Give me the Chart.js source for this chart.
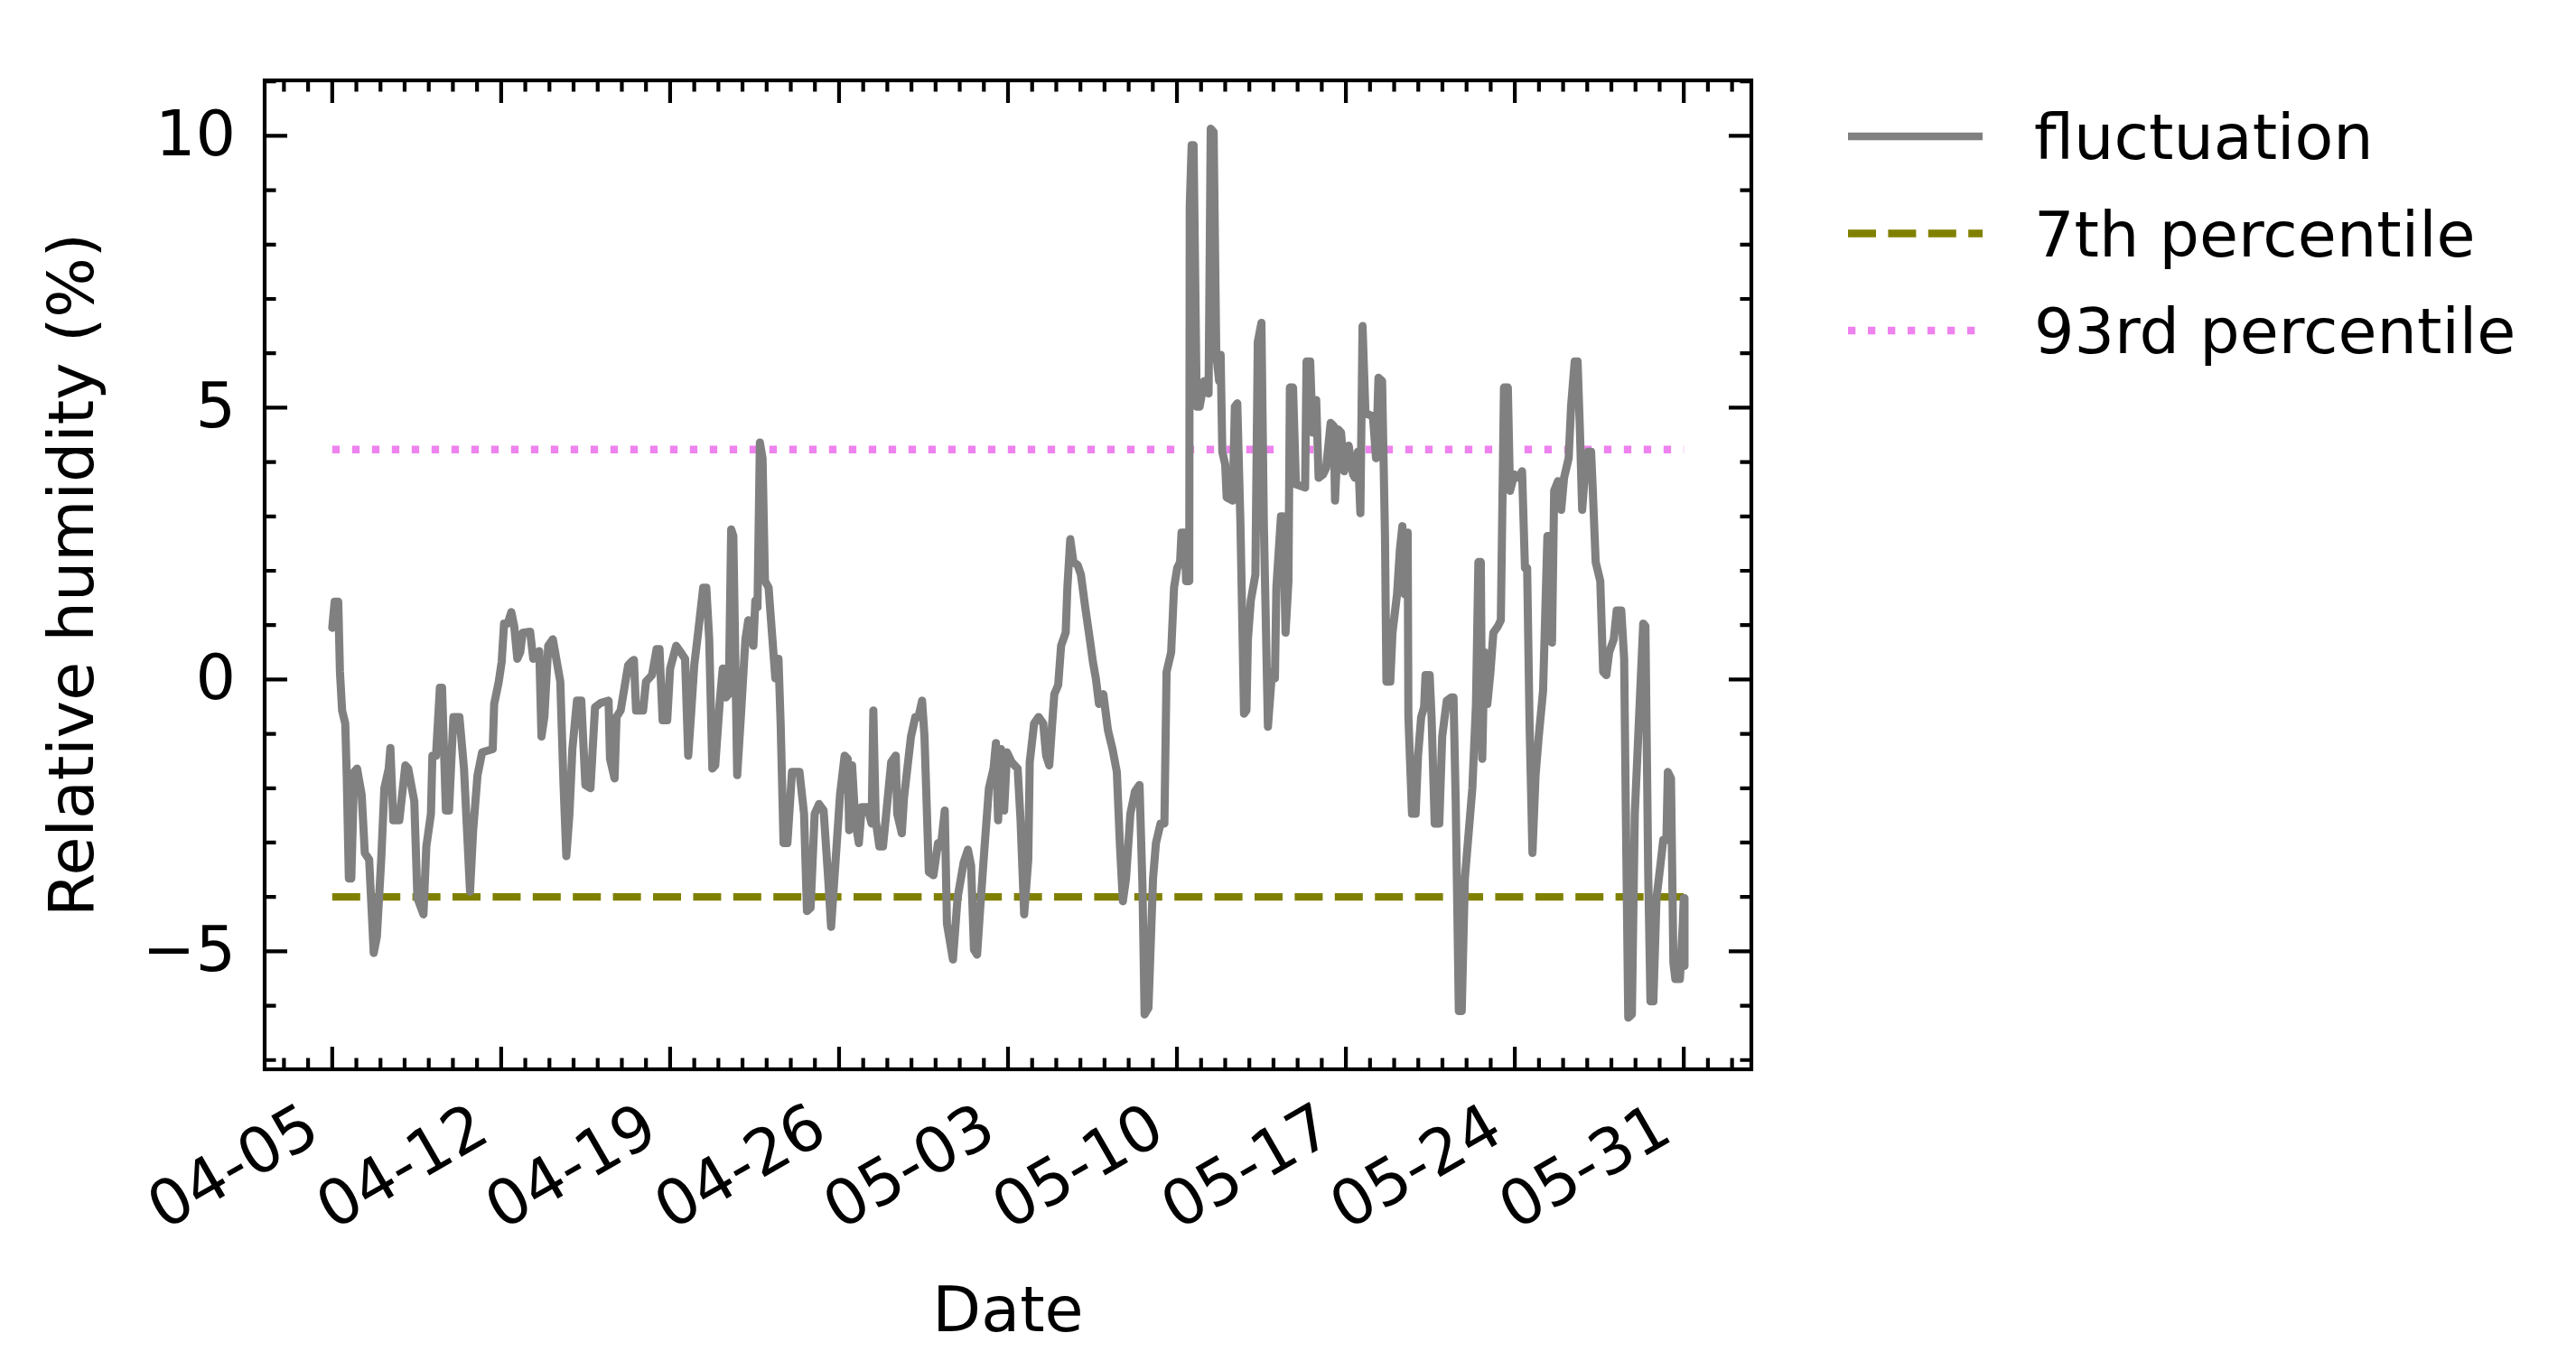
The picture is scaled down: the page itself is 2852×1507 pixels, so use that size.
<!DOCTYPE html>
<html>
<head>
<meta charset="utf-8">
<title>Relative humidity fluctuation</title>
<script src="https://cdn.jsdelivr.net/npm/chart.js@4.4.1/dist/chart.umd.min.js"></script>
<style>
  html, body { margin: 0; padding: 0; background: #fff; }
  canvas { display: block; }
</style>
</head>
<body>
<canvas id="humidityChart" width="2852" height="1507"></canvas>
<script>
// days since 04-05 00:00
const dayOffsets = [
  0.00, 0.10, 0.25, 0.32, 0.41, 0.54, 0.60, 0.69, 0.79, 0.91, 1.03, 1.22, 1.35, 1.53, 1.72, 1.85,
  2.03, 2.16, 2.34, 2.41, 2.53, 2.78, 3.03, 3.15, 3.40, 3.53, 3.78, 3.90, 4.09, 4.15, 4.30, 4.46,
  4.55, 4.71, 4.84, 5.02, 5.27, 5.46, 5.71, 5.84, 6.02, 6.21, 6.65, 6.71, 6.90, 7.02, 7.12, 7.27,
  7.42, 7.54, 7.67, 7.79, 7.89, 8.20, 8.33, 8.58, 8.67, 8.79, 8.95, 9.14, 9.26, 9.45, 9.58, 9.70,
  9.83, 9.95, 10.14, 10.32, 10.49, 10.70, 10.89, 11.13, 11.45, 11.51, 11.70, 11.78, 11.95, 12.26,
  12.38, 12.50, 12.59, 12.88, 13.00, 13.25, 13.44, 13.56, 13.69, 13.88, 14.00, 14.25, 14.44, 14.62,
  14.75, 14.87, 15.00, 15.16, 15.37, 15.50, 15.62, 15.75, 15.87, 16.06, 16.18, 16.31, 16.43, 16.53,
  16.62, 16.78, 16.93, 17.12, 17.24, 17.45, 17.53, 17.62, 17.72, 17.83, 17.93, 18.08, 18.24, 18.36,
  18.49, 18.58, 18.70, 18.86, 19.05, 19.36, 19.55, 19.67, 19.82, 19.99, 20.17, 20.36, 20.55, 20.67,
  20.86, 21.04, 21.23, 21.36, 21.42, 21.54, 21.67, 21.82, 21.94, 22.17, 22.35, 22.42, 22.52, 22.67,
  22.82, 22.98, 23.16, 23.35, 23.41, 23.60, 23.69, 23.98, 24.16, 24.29, 24.44, 24.54, 24.72, 24.91,
  25.10, 25.22, 25.38, 25.47, 25.72, 25.91, 26.16, 26.34, 26.47, 26.59, 26.72, 26.84, 27.03, 27.21,
  27.40, 27.50, 27.59, 27.71, 27.84, 27.96, 28.15, 28.40, 28.52, 28.67, 28.84, 28.90, 29.08, 29.27,
  29.46, 29.58, 29.71, 29.83, 29.92, 30.08, 30.20, 30.39, 30.46, 30.58, 30.71, 30.89, 31.02, 31.20,
  31.39, 31.52, 31.64, 31.77, 31.95, 32.14, 32.33, 32.51, 32.64, 32.76, 32.89, 33.07, 33.26, 33.45,
  33.57, 33.66, 33.82, 34.01, 34.13, 34.32, 34.48, 34.57, 34.76, 34.88, 35.01, 35.13, 35.19, 35.32,
  35.38, 35.51, 35.53, 35.61, 35.69, 35.82, 35.94, 36.13, 36.31, 36.40, 36.52, 36.63, 36.75, 36.81,
  36.88, 37.00, 37.06, 37.31, 37.40, 37.50, 37.63, 37.78, 37.88, 37.94, 38.06, 38.25, 38.35, 38.50,
  38.60, 38.77, 38.94, 39.06, 39.12, 39.31, 39.40, 39.50, 39.62, 39.68, 39.81, 39.93, 40.31, 40.37,
  40.52, 40.62, 40.77, 40.87, 41.05, 41.18, 41.37, 41.50, 41.55, 41.68, 41.80, 41.93, 42.11, 42.30,
  42.37, 42.50, 42.60, 42.69, 42.81, 43.12, 43.25, 43.35, 43.50, 43.56, 43.62, 43.68, 43.84, 43.93,
  44.12, 44.24, 44.34, 44.43, 44.56, 44.59, 44.74, 44.89, 44.99, 45.12, 45.24, 45.30, 45.47, 45.55,
  45.68, 45.87, 45.99, 46.18, 46.36, 46.46, 46.55, 46.68, 46.80, 46.93, 47.24, 47.39, 47.49, 47.59,
  47.65, 47.74, 47.86, 47.99, 48.11, 48.30, 48.42, 48.55, 48.71, 48.80, 48.98, 49.17, 49.30, 49.42,
  49.51, 49.61, 49.73, 49.86, 49.99, 50.17, 50.35, 50.45, 50.54, 50.63, 50.79, 50.92, 51.04, 51.23,
  51.33, 51.48, 51.60, 51.70, 51.79, 51.91, 52.04, 52.16, 52.22, 52.35, 52.54, 52.66, 52.79, 52.91,
  53.10, 53.22, 53.41, 53.53, 53.60, 53.70, 53.85, 53.97, 54.16, 54.32, 54.41, 54.53, 54.62, 54.74,
  54.87, 55.03, 55.15, 55.28, 55.34, 55.47, 55.57, 55.65, 55.84, 55.96, 56.00, 56.03
];
const fluctuation = [
  0.95, 1.43, 1.43, 0.14, -0.57, -0.81, -1.76, -3.66, -3.66, -1.70, -1.64, -2.12, -3.19, -3.31, -5.03, -4.73,
  -3.31, -2.00, -1.64, -1.26, -2.59, -2.59, -1.58, -1.64, -2.24, -4.02, -4.32, -3.07, -2.47, -1.40, -1.40, -0.15,
  -0.15, -2.41, -2.41, -0.69, -0.69, -1.64, -3.90, -2.77, -1.76, -1.34, -1.28, -0.45, -0.04, 0.32, 1.03, 1.03,
  1.24, 0.98, 0.38, 0.50, 0.86, 0.88, 0.38, 0.52, -1.05, -0.69, 0.62, 0.74, 0.44, -0.04, -1.88, -3.25,
  -2.47, -1.28, -0.39, -0.39, -1.94, -2.00, -0.51, -0.43, -0.39, -1.46, -1.82, -0.69, -0.57, 0.26,
  0.32, 0.36, -0.57, -0.57, -0.04, 0.08, 0.56, 0.56, -0.75, -0.75, 0.20, 0.62, 0.50, 0.38,
  -1.40, -0.63, 0.26, 0.86, 1.69, 1.69, 0.74, -1.64, -1.58, -0.39, 0.20, -0.33, -0.27, 2.76,
  2.64, -1.76, -0.69, 0.74, 1.09, 0.62, 1.45, 1.33, 4.36, 4.07, 1.81, 1.69, 0.74, 0.02,
  0.38, -0.81, -3.01, -3.01, -1.70, -1.70, -2.47, -4.26, -4.20, -2.47, -2.29, -2.41, -3.66, -4.55,
  -3.31, -2.12, -1.40, -1.46, -2.77, -1.58, -2.59, -3.01, -2.35, -2.35, -2.65, -0.57, -2.59, -3.07,
  -3.07, -2.35, -1.52, -1.40, -2.47, -2.83, -2.18, -1.05, -0.69, -0.69, -0.39, -1.05, -3.54, -3.60,
  -3.01, -3.07, -2.41, -4.49, -5.15, -4.02, -3.37, -3.13, -3.42, -4.97, -5.06, -4.26, -3.07, -2.00,
  -1.64, -1.17, -2.59, -1.28, -2.41, -1.34, -1.52, -1.64, -2.59, -4.32, -3.31, -1.52, -0.81, -0.69,
  -0.81, -1.40, -1.58, -0.81, -0.27, -0.10, 0.62, 0.86, 1.69, 2.58, 2.16, 2.10, 1.93, 1.33,
  0.74, 0.32, 0.02, -0.45, -0.27, -0.93, -1.28, -1.70, -3.07, -4.08, -3.66, -2.47, -2.06, -1.94,
  -3.78, -6.16, -6.04, -3.66, -3.01, -2.65, -2.65, 0.14, 0.50, 1.69, 2.05, 2.16, 2.70, 2.70,
  1.81, 1.81, 8.70, 9.83, 9.83, 5.02, 5.02, 5.49, 5.26, 10.13, 10.07, 5.97, 5.49, 5.97,
  4.19, 3.95, 3.35, 3.29, 5.02, 5.08, 2.88, -0.63, -0.57, 0.74, 1.45, 1.93, 6.21, 6.56,
  2.88, -0.87, 0.14, 0.02, 1.69, 3.00, 3.00, 0.86, 1.81, 5.37, 5.37, 3.59, 3.53, 5.85,
  5.85, 4.54, 5.14, 3.71, 3.77, 3.89, 4.72, 4.66, 3.29, 4.60, 4.54, 3.83, 4.30, 3.77,
  3.71, 4.19, 3.06, 6.50, 4.90, 4.84, 4.07, 5.55, 5.49, 4.07, 2.64, -0.04, -0.04, 0.86,
  1.57, 2.40, 2.82, 1.57, 2.70, -0.69, -2.47, -2.47, -1.40, -0.69, -0.51, 0.08, 0.08, -0.69,
  -2.65, -2.65, -1.05, -0.39, -0.33, -0.33, -2.24, -6.10, -6.10, -3.66, -2.00, -0.45, 2.16, 2.16,
  -1.46, 0.50, -0.45, 0.14, 0.86, 0.98, 1.09, 5.37, 5.37, 3.47, 3.77, 3.71, 3.83, 2.05,
  2.05, -0.81, -3.19, -1.76, -1.05, -0.21, 2.64, 2.64, 0.68, 3.47, 3.65, 3.12, 3.71, 4.07,
  5.02, 5.85, 5.85, 4.54, 3.12, 3.83, 4.19, 4.19, 3.59, 2.16, 1.81, 0.14, 0.08, 0.50,
  0.74, 1.27, 1.27, 0.38, -2.47, -6.22, -6.16, -2.47, -0.57, 1.03, 0.98, -3.66, -5.92, -5.92,
  -4.02, -3.42, -2.95, -2.95, -1.70, -1.82, -5.21, -5.51, -5.51, -4.49, -4.02, -5.27
];

// percentile reference lines, drawn over the data span
const percentileSpan = [0, 56];
const p7Values = [-4.0, -4.0];
const p93Values = [4.23, 4.23];

const xTickDays = [0, 7, 14, 21, 28, 35, 42, 49, 56];
const xTickLabels = ['04-05', '04-12', '04-19', '04-26', '05-03', '05-10', '05-17', '05-24', '05-31'];
const yTickValues = [-5, 0, 5, 10];
const yTickLabels = ['\u22125', '0', '5', '10'];

const toPoints = (xs, ys) => xs.map((x, i) => ({ x: x, y: ys[i] }));

// inward ticks on all four sides plus the frame, like the matplotlib style
const frameAndTicks = {
  id: 'frameAndTicks',
  afterDatasetsDraw(chart) {
    const { ctx, chartArea: a, scales: { x, y } } = chart;
    ctx.save();
    ctx.strokeStyle = '#000';
    ctx.lineWidth = 4.2;
    ctx.lineCap = 'butt';
    ctx.beginPath();
    for (let d = Math.ceil(x.min); d <= x.max; d++) {
      const len = xTickDays.includes(d) ? 25 : 12.5;
      const px = x.getPixelForValue(d);
      ctx.moveTo(px, a.bottom); ctx.lineTo(px, a.bottom - len);
      ctx.moveTo(px, a.top); ctx.lineTo(px, a.top + len);
    }
    for (let v = Math.ceil(y.min); v <= y.max; v++) {
      const len = yTickValues.includes(v) ? 25 : 12.5;
      const py = y.getPixelForValue(v);
      ctx.moveTo(a.left, py); ctx.lineTo(a.left + len, py);
      ctx.moveTo(a.right, py); ctx.lineTo(a.right - len, py);
    }
    ctx.stroke();
    ctx.strokeRect(a.left, a.top, a.right - a.left, a.bottom - a.top);
    ctx.restore();
  }
};

// legend to the right of the axes, with line samples
const sideLegend = {
  id: 'sideLegend',
  afterDraw(chart) {
    const ctx = chart.ctx;
    ctx.save();
    ctx.font = '70px "DejaVu Sans"';
    ctx.textBaseline = 'alphabetic';
    ctx.fillStyle = '#000';
    chart.data.datasets.forEach((ds, i) => {
      const rowY = 151 + i * 107.5;
      ctx.strokeStyle = ds.borderColor;
      ctx.lineWidth = 8.3;
      ctx.setLineDash(ds.borderDash || []);
      ctx.lineCap = 'butt';
      ctx.beginPath();
      ctx.moveTo(2046, rowY);
      ctx.lineTo(2195, rowY);
      ctx.stroke();
      ctx.setLineDash([]);
      ctx.fillText(ds.label, 2252, rowY + 25);
    });
    ctx.restore();
  }
};

Chart.defaults.font.family = '"DejaVu Sans", sans-serif';
Chart.defaults.font.size = 70;
Chart.defaults.color = '#000';

new Chart(document.getElementById('humidityChart'), {
  type: 'line',
  data: {
    datasets: [
      {
        label: 'fluctuation',
        data: toPoints(dayOffsets, fluctuation),
        borderColor: '#808080',
        borderWidth: 9,
        borderJoinStyle: 'round',
        borderCapStyle: 'round',
        pointRadius: 0,
        tension: 0
      },
      {
        label: '7th percentile',
        data: toPoints(percentileSpan, p7Values),
        borderColor: '#808000',
        borderWidth: 8.3,
        borderDash: [31, 13.4],
        pointRadius: 0
      },
      {
        label: '93rd percentile',
        data: toPoints(percentileSpan, p93Values),
        borderColor: '#EE82EE',
        borderWidth: 8.3,
        borderDash: [8.3, 13.7],
        pointRadius: 0
      }
    ]
  },
  options: {
    responsive: false,
    devicePixelRatio: 1,
    animation: false,
    events: [],
    layout: { padding: { top: 89, right: 913, bottom: 0, left: 0 } },
    plugins: { legend: { display: false }, tooltip: { enabled: false } },
    scales: {
      x: {
        type: 'linear',
        min: -2.8,
        max: 58.8,
        grid: { display: false, drawTicks: false },
        border: { display: false },
        afterBuildTicks: (scale) => { scale.ticks = xTickDays.map(v => ({ value: v })); },
        afterFit: (scale) => { scale.height = 323; },
        ticks: {
          autoSkip: false,
          minRotation: 30,
          maxRotation: 30,
          padding: 25,
          labelOffset: -19,
          callback: (value) => xTickLabels[xTickDays.indexOf(value)]
        },
        title: { display: true, text: 'Date', padding: { top: 0, bottom: 9 } }
      },
      y: {
        type: 'linear',
        min: -7.17,
        max: 11.02,
        grid: { display: false, drawTicks: false },
        border: { display: false },
        afterBuildTicks: (scale) => { scale.ticks = yTickValues.map(v => ({ value: v })); },
        afterFit: (scale) => { scale.width = 293; },
        ticks: {
          padding: 32,
          labelOffset: 3,
          callback: (value) => yTickLabels[yTickValues.indexOf(value)]
        },
        title: { display: true, text: 'Relative humidity (%)', padding: { top: 43, bottom: 0 } }
      }
    }
  },
  plugins: [frameAndTicks, sideLegend]
});
</script>
</body>
</html>
